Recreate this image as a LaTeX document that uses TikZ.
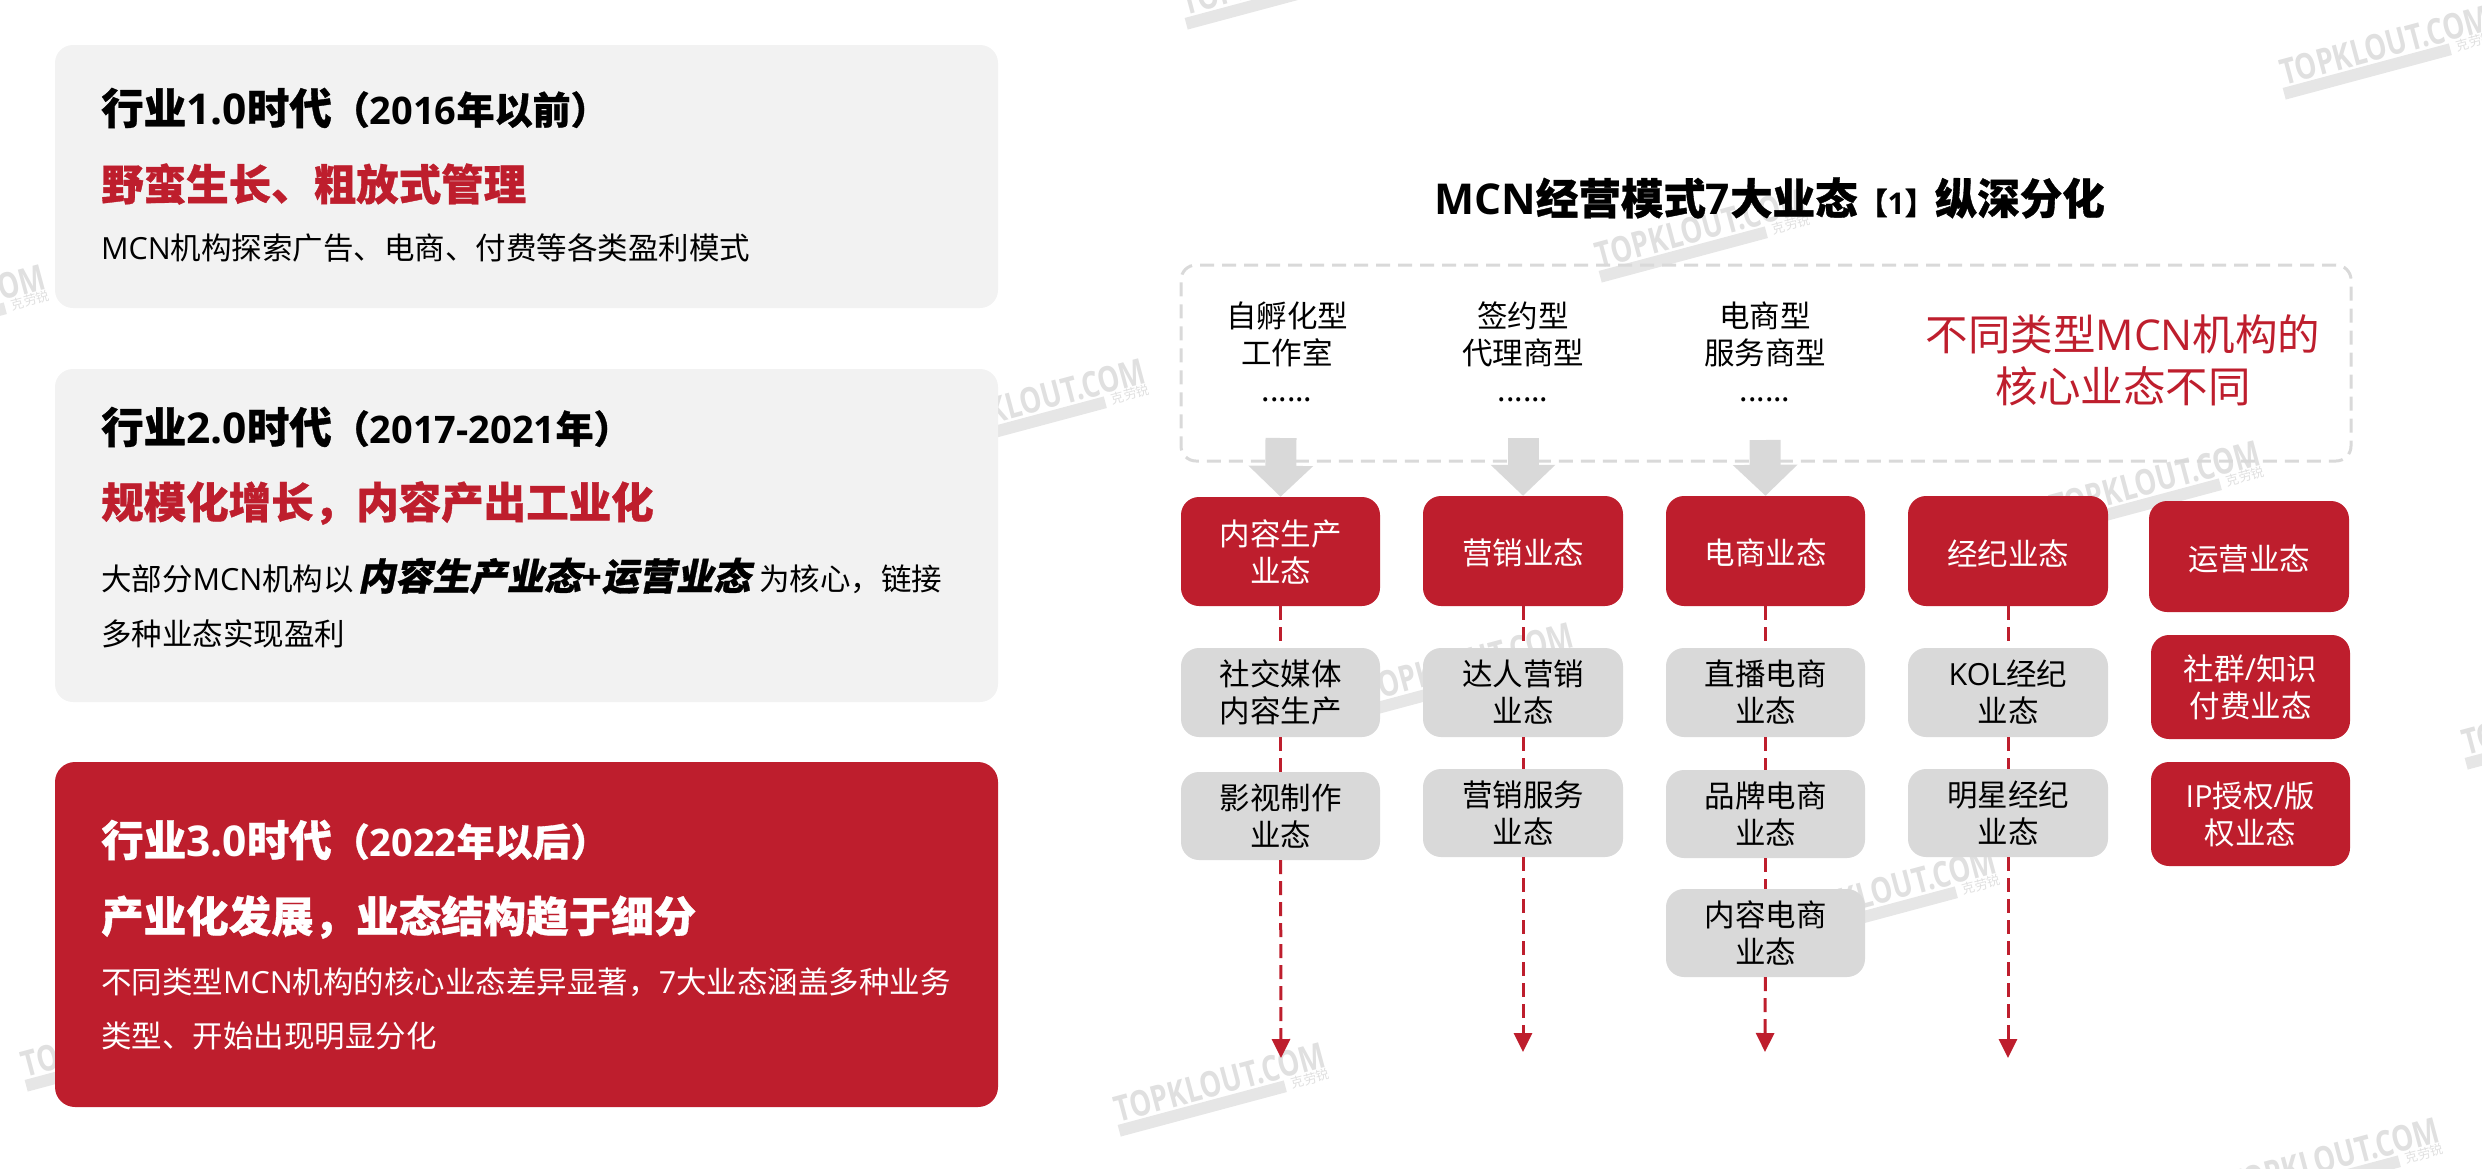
\documentclass[tikz,border=0pt]{standalone}
\usepackage{fontspec}
\usetikzlibrary{arrows.meta}
\setmainfont{Noto Sans CJK SC}[BoldFeatures={FakeBold=0.8}]
\newfontfamily\lat{Open Sans}
\newfontfamily\cjksl[FakeSlant=0.2,BoldFeatures={FakeBold=0.8}]{Noto Sans CJK SC}
\definecolor{bred}{HTML}{BE1E2D}
\definecolor{pgray}{HTML}{F2F2F2}
\definecolor{bgray}{HTML}{D9D9D9}
\definecolor{wmgray}{HTML}{E0E0E0}
\definecolor{wmbar}{HTML}{E6E6E6}
\newcommand\fs[2]{\fontsize{#1}{#2}\selectfont}
\newcommand\bx[7]{\node[#6,minimum width={(#4-#2)*1pt},minimum height={(#5-#3)*1pt}] (#1) at ({(#2+#4)/2},{(#3+#5)/2}) {#7};}
\newcommand\wm[2]{\begin{scope}[shift={(#1,#2)},rotate=15,transform shape]
  \node[wmtext] at (0,0) {TOPKLOUT.COM};
  \fill[wmbar] (-110,15) rectangle (62,27);
  \node[wmsmall] at (88,20) {克劳锐};
\end{scope}}
\tikzset{
  panel/.style={rectangle,rounded corners=18pt,inner sep=0pt,fill=pgray},
  redpanel/.style={rectangle,rounded corners=20pt,inner sep=0pt,fill=bred},
  boxtext/.style={align=center,font=\fs{30.5}{37},execute at begin node={\rule{0pt}{30pt}}},
  redbox/.style={rectangle,rounded corners=18pt,inner sep=0pt,fill=bred,text=white,boxtext},
  graybox/.style={rectangle,rounded corners=18pt,inner sep=0pt,fill=bgray,text=black,boxtext},
  head/.style={anchor=west,inner sep=0pt,font=\fs{42.5}{50}\bfseries},
  body/.style={anchor=west,inner sep=0pt,font=\fs{30.5}{37}},
  typetext/.style={inner sep=0pt,align=center,font=\fs{30.5}{37}},
  dashbox/.style={rectangle,rounded corners=15pt,inner sep=0pt,draw=bgray,line width=3pt,dash pattern=on 14pt off 8pt},
  reddash/.style={draw=bred,line width=3pt,dash pattern=on 14pt off 7pt},
  redarrow/.style={reddash,-{Triangle[length=19pt,width=18pt,fill=bred]}},
  blockarrow/.style={draw=bgray,line width=31pt,-{Triangle[length=31pt,width=63pt,fill=bgray]}},
  wmtext/.style={inner sep=0pt,yscale=1.3,text=wmgray,font={\lat\fs{27.5}{30}\bfseries}},
  wmsmall/.style={inner sep=0pt,text=wmgray,font=\fs{13}{15}},
}
\begin{document}
\begin{tikzpicture}[x=1pt,y=-1pt]
\useasboundingbox (0,0) rectangle (2482,1168);
\clip (0,0) rectangle (2482,1168);
% watermarks
\wm{2385}{45}\wm{1701}{228}\wm{-60}{304}\wm{1040}{398}\wm{2155}{480}
\wm{1468}{662}\wm{1891}{888}\wm{2567}{715}\wm{1220}{1082}\wm{2334}{1157}
\wm{127}{1037}\wm{1287}{-25}
% left panels
\bx{p1}{55}{45}{998}{308}{panel}{}
\bx{p2}{55}{369}{998}{702}{panel}{}
\bx{p3}{55}{762}{998}{1107}{redpanel}{}
\node[head] (p1a) at (101,108) {行业{\lat 1.0}时代{\fs{38}{40}（{\lat 2016}年以前）}};
\node[head,text=bred] (p1b) at (101,184) {野蛮生长、粗放式管理};
\node[body] (p1c) at (101,248) {{\lat MCN}机构探索广告、电商、付费等各类盈利模式};
\node[head] (p2a) at (101,427) {行业{\lat 2.0}时代{\fs{38}{40}（{\lat 2017-2021}年）}};
\node[head,text=bred] (p2b) at (101,503) {规模化增长，内容产出工业化};
\node[body] (p2c) at (101,576) {大部分{\lat MCN}机构以\hspace{4pt}{\cjksl\fs{37.2}{37}\bfseries 内容生产业态{\lat\itshape +}运营业态}\hspace{9pt}为核心，链接};
\node[body] (p2d) at (101,634) {多种业态实现盈利};
\node[head,text=white] (p3a) at (101,840) {行业{\lat 3.0}时代{\fs{38}{40}（{\lat 2022}年以后）}};
\node[head,text=white] (p3b) at (101,917) {产业化发展，业态结构趋于细分};
\node[body,text=white] (p3c) at (101,982) {不同类型{\lat MCN}机构的核心业态差异显著，{\lat 7}大业态涵盖多种业务};
\node[body,text=white] (p3d) at (101,1036) {类型、开始出现明显分化};
% title
\node[head] (title) at (1434,198) {{\lat MCN}经营模式{\lat 7}大业态{\fs{30}{30}【{\lat 1}】}纵深分化};
% dashed region
\bx{region}{1181}{265}{2351}{461}{dashbox}{}
\node[typetext] (t1) at (1287,352) {自孵化型\\工作室\\[0pt]......};
\node[typetext] (t2) at (1523,352) {签约型\\代理商型\\[0pt]......};
\node[typetext] (t3) at (1765,352) {电商型\\服务商型\\[0pt]......};
\node[typetext,text=bred,font=\fs{42.5}{52}] (t4) at (2123,360) {不同类型{\lat MCN}机构的\\核心业态不同};
% red headers
\bx{r1}{1181}{497}{1380}{606}{redbox}{内容生产\\业态}
\bx{r2}{1423}{496}{1623}{606}{redbox}{营销业态}
\bx{r3}{1666}{496}{1865}{606}{redbox}{电商业态}
\bx{r4}{1908}{496}{2108}{606}{redbox}{经纪业态}
\bx{r5}{2149}{501}{2349}{612}{redbox}{运营业态}
% gray items
\bx{g11}{1181}{648}{1380}{737}{graybox}{社交媒体\\内容生产}
\bx{g12}{1181}{772}{1380}{860}{graybox}{影视制作\\业态}
\bx{g21}{1423}{648}{1623}{737}{graybox}{达人营销\\业态}
\bx{g22}{1423}{769}{1623}{857}{graybox}{营销服务\\业态}
\bx{g31}{1666}{648}{1865}{737}{graybox}{直播电商\\业态}
\bx{g32}{1666}{770}{1865}{858}{graybox}{品牌电商\\业态}
\bx{g33}{1666}{889}{1865}{977}{graybox}{内容电商\\业态}
\bx{g41}{1908}{648}{2108}{737}{graybox}{{\lat KOL}经纪\\业态}
\bx{g42}{1908}{769}{2108}{857}{graybox}{明星经纪\\业态}
\bx{r51}{2151}{635}{2350}{739}{redbox}{社群{\lat /}知识\\付费业态}
\bx{r52}{2151}{762}{2350}{866}{redbox}{{\lat IP}授权{\lat /}版\\权业态}
% end points and block arrow starts
\coordinate (e1) at (1281,1058);
\coordinate (e2) at (1523,1052);
\coordinate (e3) at (1765,1052);
\coordinate (e4) at (2008,1058);
\coordinate (a1) at (1281,438);
\coordinate (a2) at (1523,438);
\coordinate (a3) at (1765,440);
% block arrows
\draw[blockarrow] (a1) -- (r1.north);
\draw[blockarrow] (a2) -- (r2.north);
\draw[blockarrow] (a3) -- (r3.north);
% dashed connectors
\draw[reddash] (r1) -- (g11);
\draw[reddash] (r2) -- (g21);
\draw[reddash] (r3) -- (g31);
\draw[reddash] (r4) -- (g41);
\draw[reddash] (g11) -- (g12);
\draw[reddash] (g21) -- (g22);
\draw[reddash] (g31) -- (g32);
\draw[reddash] (g32) -- (g33);
\draw[reddash] (g41) -- (g42);
\draw[redarrow] (g12) -- (e1);
\draw[redarrow] (g22) -- (e2);
\draw[redarrow] (g33) -- (e3);
\draw[redarrow] (g42) -- (e4);
\end{tikzpicture}
\end{document}
